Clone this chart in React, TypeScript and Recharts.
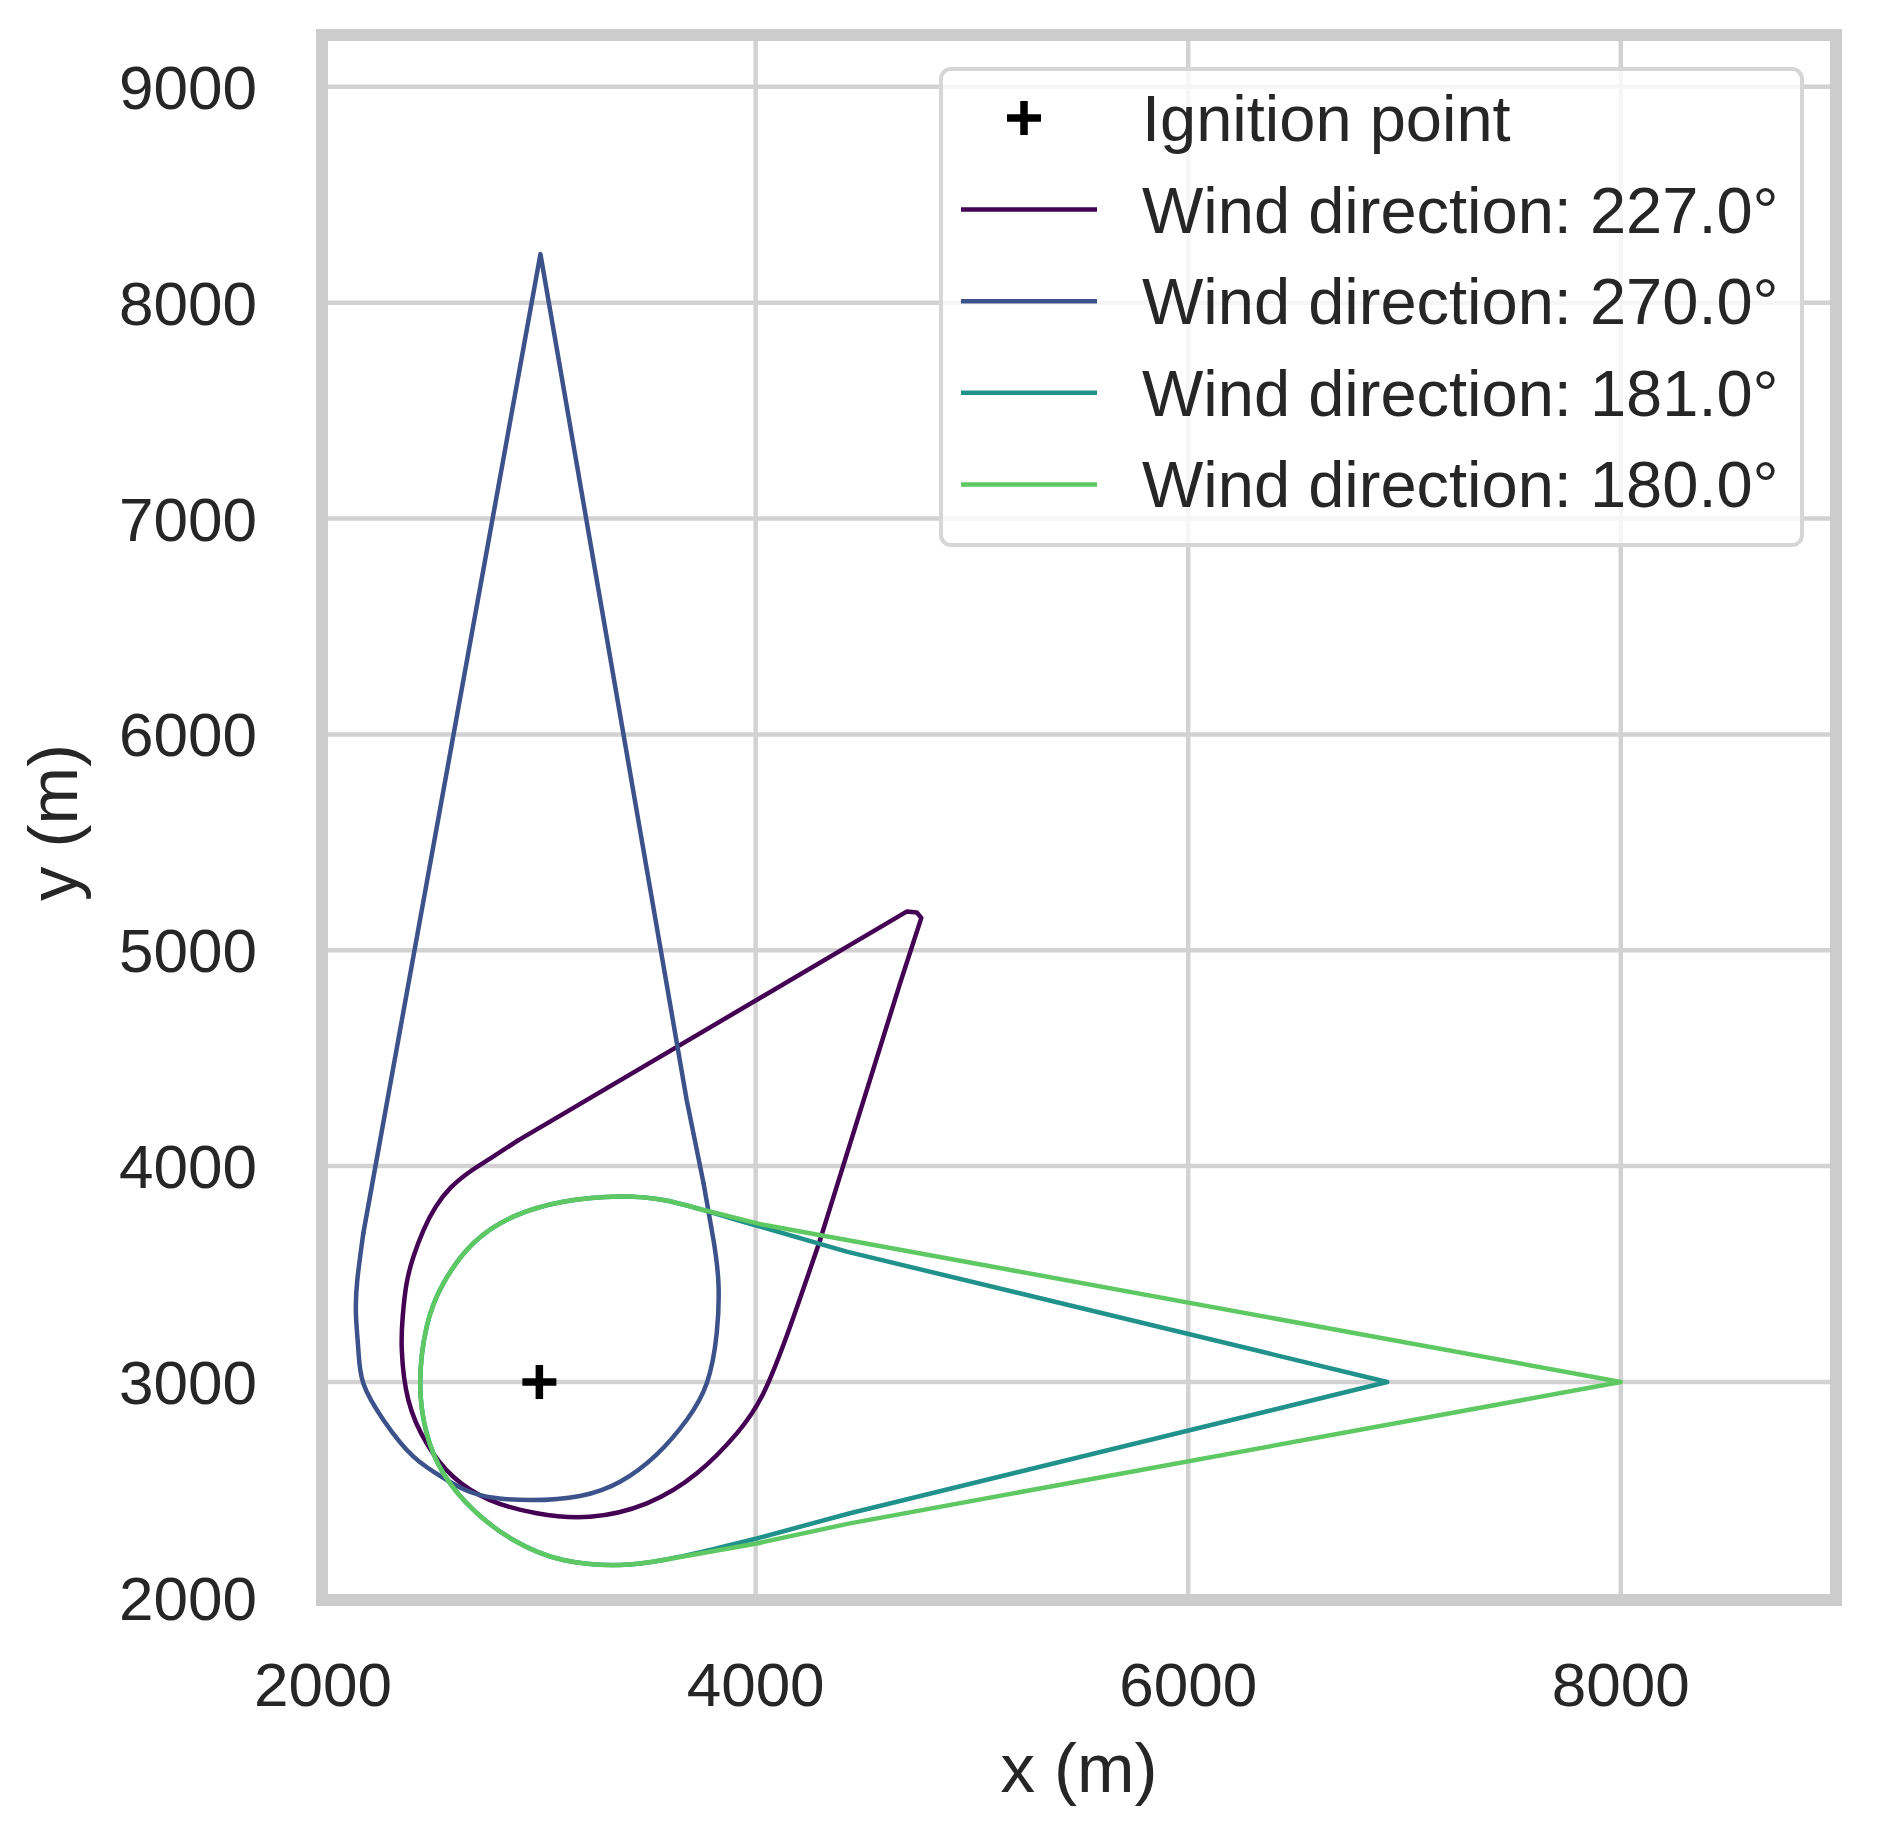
import React from "react";
import {
  ScatterChart,
  Scatter,
  XAxis,
  YAxis,
  CartesianGrid,
  ReferenceArea,
  Legend,
} from "recharts";

// perimeters, (x, y) in metres.
// each one is split into its rounded back part (LOOP) and its straight head (EDGE)
const LOOP_227: number[][] = [
  [2900, 4118], [2772, 4035], [2680, 3975], [2590, 3900], [2520, 3810],
  [2465, 3705], [2418, 3581], [2385, 3450], [2368, 3300], [2364, 3148],
  [2394, 2917], [2479, 2716], [2602, 2561], [2772, 2453], [2988, 2392],
  [3234, 2376], [3497, 2438], [3728, 2577], [3913, 2762], [4036, 2948],
  [4159, 3256], [4298, 3658],
];
const EDGE_227: number[][] = [
  [4298, 3658], [4668, 4848], [4766, 5150], [4745, 5175],
  [4700, 5180], [2900, 4118],
];

const LOOP_270: number[][] = [
  [3759, 3921], [3805, 3658], [3828, 3457], [3820, 3226], [3774, 2994],
  [3681, 2824], [3543, 2665], [3373, 2538], [3188, 2472], [2957, 2453],
  [2726, 2476], [2572, 2546], [2418, 2654], [2279, 2824], [2186, 2994],
  [2163, 3150], [2152, 3310], [2158, 3470], [2186, 3689],
];
const EDGE_270: number[][] = [
  [2186, 3689], [3005, 8225], [3681, 4307], [3759, 3921],
];

const LOOP_181: number[][] = [
  [3728, 3805], [3573, 3843], [3373, 3859], [3111, 3835], [2880, 3766],
  [2695, 3643], [2556, 3457], [2479, 3256], [2449, 2994], [2479, 2762],
  [2556, 2577], [2695, 2407], [2880, 2268], [3111, 2175], [3373, 2152],
  [3573, 2175], [3780, 2220],
];
const EDGE_181: number[][] = [
  [3780, 2220], [4005, 2275], [4436, 2392], [6920, 3000], [4421, 3604],
  [3950, 3740], [3728, 3805],
];

const LOOP_180: number[][] = [
  [3728, 3805], [3573, 3843], [3373, 3859], [3111, 3835], [2880, 3766],
  [2695, 3643], [2556, 3457], [2479, 3256], [2449, 2994], [2479, 2762],
  [2556, 2577], [2695, 2407], [2880, 2268], [3111, 2175], [3373, 2152],
  [3573, 2175],
];
const EDGE_180: number[][] = [
  [3573, 2175], [4005, 2252], [4436, 2345], [8000, 3000], [4421, 3658],
  [4036, 3728], [3728, 3805],
];

const IGNITION: number[][] = [[3000, 3000]];

const SERIES_NAMES = [
  "Wind direction: 227.0°",
  "Wind direction: 270.0°",
  "Wind direction: 181.0°",
  "Wind direction: 180.0°",
];
const SERIES_COLORS = ["#440154", "#3b528b", "#21918c", "#5ec962"];
const SERIES_LOOPS = [LOOP_227, LOOP_270, LOOP_181, LOOP_180];
const SERIES_EDGES = [EDGE_227, EDGE_270, EDGE_181, EDGE_180];

const X_TICKS = [2000, 4000, 6000, 8000];
const Y_TICKS = [2000, 3000, 4000, 5000, 6000, 7000, 8000, 9000];

const FONT = "'Liberation Sans', Arial, sans-serif";
const TEXT = "#262626";
const LINE_W = 4.5;

const toPoints = (arr: number[][]) => arr.map(([x, y]) => ({ x, y }));

const PlusMarker = (props: any) => {
  const { cx, cy } = props;
  if (cx == null || cy == null) return <g />;
  return (
    <path
      d={`M${cx - 17},${cy} H${cx + 17} M${cx},${cy - 17} V${cy + 17}`}
      stroke="#000"
      strokeWidth={7.5}
    />
  );
};

const NoDot = () => <g />;

const LegendBox = () => {
  const rowY = (i: number) => 51 + i * 91.6;
  return (
    <svg width={865} height={480} style={{ display: "block" }}>
      <rect
        x={2}
        y={2}
        width={861}
        height={476}
        rx={10}
        fill="#ffffff"
        fillOpacity={0.8}
        stroke="#d6d6d6"
        strokeWidth={4}
      />
      <path
        d={`M${85 - 17},${rowY(0)} H${85 + 17} M85,${rowY(0) - 17} V${rowY(0) + 17}`}
        stroke="#000"
        strokeWidth={7.5}
      />
      <text x={203} y={rowY(0) + 23} fontSize={65} fontFamily={FONT} fill={TEXT}>
        Ignition point
      </text>
      {SERIES_NAMES.map((name, i) => (
        <g key={name}>
          <line
            x1={22}
            x2={158}
            y1={rowY(i + 1)}
            y2={rowY(i + 1)}
            stroke={SERIES_COLORS[i]}
            strokeWidth={LINE_W}
          />
          <text
            x={203}
            y={rowY(i + 1) + 23}
            fontSize={65}
            fontFamily={FONT}
            fill={TEXT}
          >
            {name}
          </text>
        </g>
      ))}
    </svg>
  );
};

const XLabel = (props: any) => {
  const vb = props.viewBox || {};
  return (
    <text
      x={vb.x + vb.width / 2}
      y={1792}
      textAnchor="middle"
      fontSize={69}
      fontFamily={FONT}
      fill={TEXT}
    >
      x (m)
    </text>
  );
};

const YLabel = (props: any) => {
  const vb = props.viewBox || {};
  const cy = vb.y + vb.height / 2 + 5;
  return (
    <text
      x={77}
      y={cy}
      transform={`rotate(-90, 77, ${cy})`}
      textAnchor="middle"
      fontSize={69}
      fontFamily={FONT}
      fill={TEXT}
    >
      y (m)
    </text>
  );
};

export default function App() {
  const tickStyle = { fontSize: 62, fontFamily: FONT, fill: TEXT };

  return (
    <div
      style={{
        position: "absolute",
        left: 0,
        top: 0,
        width: 1878,
        height: 1826,
        background: "#ffffff",
      }}
    >
      <ScatterChart
        width={1878}
        height={1826}
        margin={{ top: 35, right: 42, bottom: 106, left: 0 }}
      >
        <CartesianGrid
          stroke="#d2d2d2"
          strokeWidth={4.5}
          horizontalValues={Y_TICKS}
          verticalValues={X_TICKS}
        />
        <XAxis
          type="number"
          dataKey="x"
          domain={[1995, 8995]}
          ticks={X_TICKS}
          allowDataOverflow
          height={120}
          axisLine={false}
          tickLine={false}
          tickSize={6}
          tickMargin={56}
          tick={tickStyle}
          label={<XLabel />}
        />
        <YAxis
          type="number"
          dataKey="y"
          domain={[1990, 9240]}
          ticks={Y_TICKS}
          allowDataOverflow
          width={322}
          axisLine={false}
          tickLine={false}
          tickSize={6}
          tickMargin={59}
          tick={tickStyle}
          label={<YLabel />}
        />
        <ReferenceArea
          x1={1995}
          x2={8995}
          y1={1990}
          y2={9240}
          fill="none"
          stroke="#cccccc"
          strokeWidth={12}
          ifOverflow="visible"
        />
        <Scatter
          name="Ignition point"
          data={toPoints(IGNITION)}
          shape={<PlusMarker />}
          isAnimationActive={false}
          legendType="none"
        />
        {SERIES_NAMES.map((name, i) => (
          <Scatter
            key={name + "-loop"}
            name={name}
            data={toPoints(SERIES_LOOPS[i])}
            fill={SERIES_COLORS[i]}
            line={{
              stroke: SERIES_COLORS[i],
              strokeWidth: LINE_W,
              strokeLinejoin: "round",
              strokeLinecap: "round",
            }}
            lineType="joint"
            lineJointType="natural"
            shape={<NoDot />}
            isAnimationActive={false}
          />
        ))}
        {SERIES_NAMES.map((name, i) => (
          <Scatter
            key={name + "-edge"}
            name={name}
            data={toPoints(SERIES_EDGES[i])}
            fill={SERIES_COLORS[i]}
            line={{
              stroke: SERIES_COLORS[i],
              strokeWidth: LINE_W,
              strokeLinejoin: "round",
              strokeLinecap: "round",
            }}
            lineType="joint"
            lineJointType="linear"
            shape={<NoDot />}
            isAnimationActive={false}
            legendType="none"
          />
        ))}
        <Legend
          content={<LegendBox />}
          layout="horizontal"
          verticalAlign="middle"
          align="center"
          wrapperStyle={{
            position: "absolute",
            left: 939,
            top: 67,
            width: 865,
            height: 480,
          }}
        />
      </ScatterChart>
    </div>
  );
}
